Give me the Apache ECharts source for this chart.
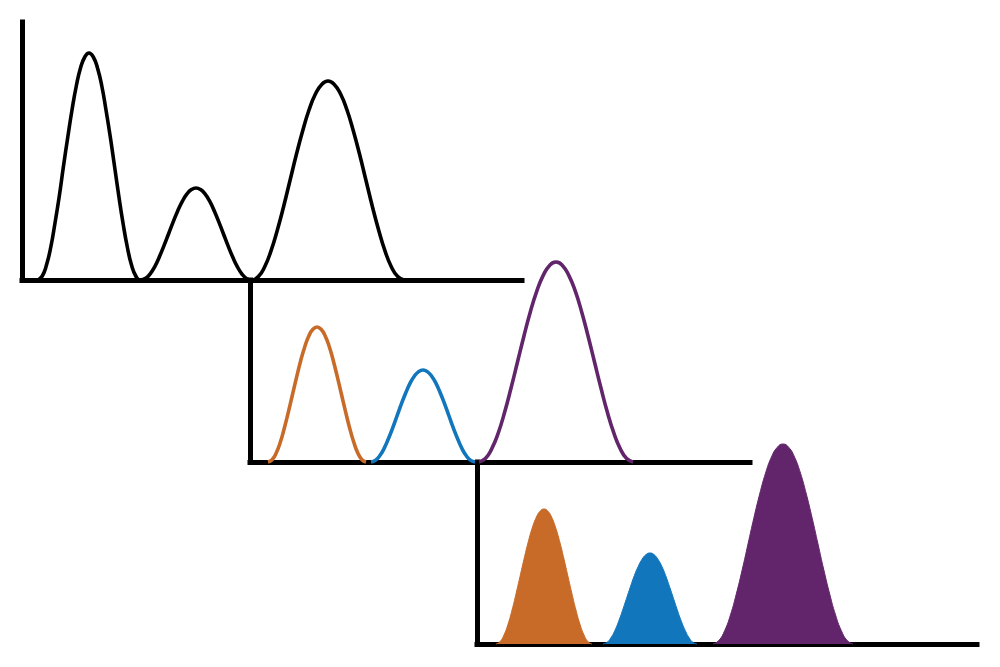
<!DOCTYPE html>
<html>
<head>
<meta charset="utf-8">
<script src="https://cdn.jsdelivr.net/npm/echarts@6/dist/echarts.min.js"></script>
<style>html,body{margin:0;padding:0;background:#fff}#c{width:1000px;height:667px}</style>
</head>
<body>
<div id="c"></div>
<script>
// Panel 1: measured overall signal (black outline)
var sumX = [16,20.3,24.5,28.8,33,37.3,41.5,45.8,50,54.3,58.5,62.8,67,71.3,75.5,79.8,84,88.3,92.5,96.8,101,105.3,109.5,113.8,118,
            123.6,128.2,132.8,137.3,141.9,146.5,151.1,155.7,160.3,164.8,169.4,174,178.6,183.2,187.8,192.3,196.9,201.5,206.1,210.7,215.3,219.8,224.4,229,
            236.3,242.7,249,255.3,261.7,268,274.3,280.7,287,293.3,299.7,306,312.3,318.7,325,331.3,337.7,344,350.3,356.7,363,369.3,375.7,382];
var sumY = [0,4,15,33,57,84,114,143,170,194,212,223,227,223,212,194,170,143,114,84,57,33,15,4,0,
            1.6,6.2,13.4,23,34.1,46,57.9,69,78.6,85.8,90.4,92,90.4,85.8,78.6,69,57.9,46,34.1,23,13.4,6.2,1.6,0,
            3.4,13.3,29.1,49.8,73.8,99.5,125.2,149.3,170,185.7,195.6,199,195.6,185.7,170,149.3,125.2,99.5,73.8,49.8,29.1,13.3,3.4,0];

// Panel 2: component outlines
var orangeX2 = [18,22.1,26.2,30.3,34.3,38.4,42.5,46.6,50.7,54.8,58.8,62.9,67,71.1,75.2,79.3,83.3,87.4,91.5,95.6,99.7,103.8,107.8,111.9,116];
var orangeY2 = [0,2.3,9,19.7,33.8,50.1,67.5,84.9,101.3,115.3,126,132.7,135,132.7,126,115.3,101.3,84.9,67.5,50.1,33.8,19.7,9,2.3,0];
var blueX2 = [121,125.3,129.7,134,138.3,142.7,147,151.3,155.7,160,164.3,168.7,173,177.3,181.7,186,190.3,194.7,199,203.3,207.7,212,216.3,220.7,225];
var blueY2 = [0,1.6,6.2,13.4,23,34.1,46,57.9,69,78.6,85.8,90.4,92,90.4,85.8,78.6,69,57.9,46,34.1,23,13.4,6.2,1.6,0];
var purpleX2 = [229,235.4,241.8,248.3,254.7,261.1,267.5,273.9,280.3,286.8,293.2,299.6,306,312.4,318.8,325.3,331.7,338.1,344.5,350.9,357.3,363.8,370.2,376.6,383];
var purpleY2 = [0,3.4,13.4,29.2,50,74.2,100,125.8,150,170.8,186.6,196.6,200,196.6,186.6,170.8,150,125.8,100,74.2,50,29.2,13.4,3.4,0];

// Panel 3: filled components
var orangeX3 = [19,23,27,31,35,39,43,47,51,55,59,63,67,71,75,79,83,87,91,95,99,103,107,111,115];
var orangeY3 = [0,2.3,9,19.7,33.8,50.1,67.5,84.9,101.3,115.3,126,132.7,135,132.7,126,115.3,101.3,84.9,67.5,50.1,33.8,19.7,9,2.3,0];
var blueX3 = [126,129.9,133.8,137.8,141.7,145.6,149.5,153.4,157.3,161.3,165.2,169.1,173,176.9,180.8,184.8,188.7,192.6,196.5,200.4,204.3,208.3,212.2,216.1,220];
var blueY3 = [0,1.5,6.1,13.3,22.8,33.8,45.5,57.2,68.3,77.7,84.9,89.5,91,89.5,84.9,77.7,68.3,57.2,45.5,33.8,22.8,13.3,6.1,1.5,0];
var purpleX3 = [236,241.8,247.7,253.5,259.3,265.2,271,276.8,282.7,288.5,294.3,300.2,306,311.8,317.7,323.5,329.3,335.2,341,346.8,352.7,358.5,364.3,370.2,376];
var purpleY3 = [0,3.4,13.4,29.2,50,74.2,100,125.8,150,170.8,186.6,196.6,200,196.6,186.6,170.8,150,125.8,100,74.2,50,29.2,13.4,3.4,0];

var colors = { black: '#000000', orange: '#C86B29', blue: '#1276BD', purple: '#62256B' };

function zip(xs, ys) { return xs.map(function (x, i) { return [x, ys[i]]; }); }

var axisLine = { show: true, lineStyle: { color: '#000', width: 5, cap: 'square' } };
function xAx(i) {
  return { type: 'value', gridIndex: i, min: 0, max: 500, axisLine: axisLine,
           axisTick: { show: false }, axisLabel: { show: false }, splitLine: { show: false } };
}
function yAx(i, max) {
  return { type: 'value', gridIndex: i, min: 0, max: max, axisLine: axisLine,
           axisTick: { show: false }, axisLabel: { show: false }, splitLine: { show: false } };
}
function lineS(i, xs, ys, color, fill) {
  var s = { type: 'line', xAxisIndex: i, yAxisIndex: i, data: zip(xs, ys),
            smooth: 0.5, showSymbol: false, symbol: 'none', clip: false,
            lineStyle: { color: color, width: fill ? 1 : 3.6 }, z: 1 };
  if (fill) s.areaStyle = { color: color, opacity: 1 };
  return s;
}

var chart = echarts.init(document.getElementById('c'), null, { renderer: 'canvas' });
chart.setOption({
  animation: false,
  backgroundColor: '#fff',
  grid: [
    { left: 22, top: 22, width: 500, height: 258 },
    { left: 250, top: 280, width: 500, height: 182 },
    { left: 477, top: 462, width: 500, height: 182 }
  ],
  xAxis: [xAx(0), xAx(1), xAx(2)],
  yAxis: [yAx(0, 258), yAx(1, 182), yAx(2, 182)],
  series: [
    lineS(0, sumX, sumY, colors.black, false),
    lineS(1, orangeX2, orangeY2, colors.orange, false),
    lineS(1, blueX2, blueY2, colors.blue, false),
    lineS(1, purpleX2, purpleY2, colors.purple, false),
    lineS(2, orangeX3, orangeY3, colors.orange, true),
    lineS(2, blueX3, blueY3, colors.blue, true),
    lineS(2, purpleX3, purpleY3, colors.purple, true)
  ]
});
</script>
</body>
</html>
